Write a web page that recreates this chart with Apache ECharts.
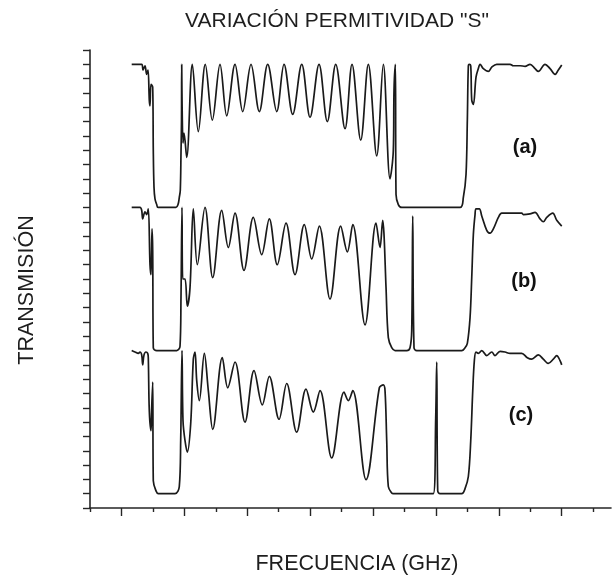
<!DOCTYPE html>
<html>
<head>
<meta charset="utf-8">
<script src="https://cdn.jsdelivr.net/npm/echarts@6/dist/echarts.min.js"></script>
<style>
html, body { margin: 0; padding: 0; background: #fff; }
#main { width: 616px; height: 581px; }
</style>
</head>
<body>
<div id="main"></div>
<script>
// curvas: [frecuencia, transmision normalizada 0..1]
var curvaA = [[1.326,1.0],[1.644,1.0],[1.686,0.96],[1.749,0.99],[1.803,0.93],[1.845,0.96],[1.886,0.75],[1.908,0.71],[1.940,0.86],[1.994,0.84],
    [2.013,0.40],[2.036,0.14],[2.067,0.06],[2.122,0.02],[2.163,0.0],[2.735,0.0],[2.799,0.02],[2.840,0.07],[2.872,0.12],[2.894,0.38],
    [2.910,0.6],[2.917,1.0],[2.936,1.0],[2.958,0.45],[2.990,0.52],[3.076,0.35],[3.254,1.0],[3.445,0.53],[3.667,1.0],[3.890,0.61],
    [4.135,1.0],[4.348,0.64],[4.612,1.0],[4.857,0.67],[5.121,1.0],[5.385,0.67],[5.652,1.0],[5.938,0.67],[6.171,1.0],[6.447,0.65],
    [6.734,1.0],[6.998,0.63],[7.284,1.0],[7.548,0.6],[7.815,1.0],[8.111,0.55],[8.333,1.0],[8.610,0.47],[8.852,1.0],[9.119,0.36],
    [9.329,1.0],[9.542,0.2],[9.647,0.4],[9.669,0.82],[9.711,1.0],[9.733,0.09],[9.806,0.02],[9.914,0.0],[11.769,0.0],[11.874,0.07],
    [11.959,0.23],[12.001,0.61],[12.033,0.99],[12.064,1.0],[12.109,0.99],[12.141,0.75],[12.192,0.72],[12.277,0.91],[12.351,0.97],[12.405,1.0],
    [12.510,0.97],[12.669,0.95],[12.777,0.98],[12.936,1.0],[13.359,1.0],[13.464,0.99],[13.677,0.99],[13.836,0.986],[13.995,1.0],[14.154,0.97],
    [14.259,0.95],[14.472,1.0],[14.631,0.97],[14.790,0.93],[14.895,0.96],[15.003,0.995]];

var curvaB = [[1.326,1.0],[1.590,1.0],[1.644,0.98],[1.676,0.92],[1.749,0.97],[1.803,0.95],[1.854,0.99],[1.908,0.6],[1.940,0.53],[1.972,0.85],
    [1.994,0.7],[2.013,0.02],[2.122,0.0],[2.758,0.0],[2.863,0.03],[2.894,0.37],[2.926,1.0],[2.949,0.5],[3.022,0.5],[3.095,0.31],
    [3.181,0.44],[3.286,0.99],[3.413,0.60],[3.658,1.0],[3.903,0.51],[4.189,0.98],[4.399,0.72],[4.612,0.96],[4.898,0.56],[5.194,0.93],
    [5.461,0.67],[5.703,0.92],[5.957,0.60],[6.234,0.89],[6.520,0.53],[6.816,0.88],[7.052,0.64],[7.293,0.87],[7.634,0.36],[7.974,0.87],
    [8.184,0.69],[8.356,0.88],[8.747,0.18],[9.097,0.89],[9.224,0.72],[9.310,0.91],[9.351,0.81],[9.415,0.44],[9.488,0.09],[9.596,0.02],
    [9.701,0.0],[10.073,0.0],[10.178,0.02],[10.232,0.14],[10.264,0.94],[10.305,0.02],[10.391,0.0],[11.823,0.0],[11.928,0.02],[12.001,0.05],
    [12.087,0.23],[12.141,0.51],[12.192,0.81],[12.246,0.95],[12.277,0.99],[12.382,0.99],[12.459,0.94],[12.618,0.84],[12.723,0.82],[12.828,0.85],
    [12.987,0.93],[13.095,0.96],[13.731,0.96],[13.782,0.95],[13.995,0.955],[14.154,0.965],[14.313,0.92],[14.418,0.90],[14.526,0.93],[14.717,0.96],
    [14.844,0.91],[15.003,0.87]];

var curvaC = [[1.326,1.0],[1.431,0.99],[1.536,0.98],[1.590,0.99],[1.644,0.97],[1.676,0.90],[1.718,0.97],[1.781,0.99],[1.835,0.98],[1.854,0.95],
    [1.886,0.58],[1.940,0.44],[1.962,0.60],[1.994,0.78],[2.013,0.09],[2.099,0.02],[2.172,0.0],[2.704,0.0],[2.840,0.05],[2.885,0.38],
    [2.926,1.0],[2.958,0.51],[3.022,0.37],[3.095,0.29],[3.203,0.49],[3.286,0.94],[3.340,0.99],[3.394,0.79],[3.477,0.65],[3.636,0.98],
    [3.763,0.72],[3.903,0.45],[4.208,0.95],[4.380,0.74],[4.612,0.92],[4.930,0.50],[5.216,0.86],[5.480,0.62],[5.703,0.82],[6.012,0.52],
    [6.256,0.77],[6.574,0.43],[6.870,0.73],[7.102,0.57],[7.316,0.72],[7.688,0.25],[8.079,0.71],[8.216,0.65],[8.356,0.72],[8.779,0.098],
    [9.202,0.74],[9.329,0.76],[9.383,0.72],[9.437,0.37],[9.488,0.05],[9.596,0.005],[9.647,0.0],[10.919,0.0],[10.995,0.53],[11.027,0.92],
    [11.059,0.02],[11.132,0.0],[11.823,0.0],[11.928,0.035],[12.033,0.12],[12.109,0.37],[12.173,0.72],[12.224,0.93],[12.277,0.99],[12.351,0.98],
    [12.459,1.0],[12.618,0.965],[12.777,0.99],[12.882,0.965],[13.041,0.995],[13.200,0.99],[13.359,0.98],[13.731,0.98],[13.909,0.95],[14.049,0.94],
    [14.259,0.97],[14.418,0.94],[14.577,0.91],[14.736,0.94],[14.844,0.965],[14.949,0.93],[15.003,0.90]];

var etiquetas = ['(a)', '(b)', '(c)'];
var ticksMayores = [1, 3, 5, 7, 9, 11, 13, 15];
var ticksMenores = [0, 2, 4, 6, 8, 10, 12, 14, 16];

// cada curva se desplaza hacia arriba y ocupa 10 divisiones
function desplazar(curva, base) {
    var res = [];
    for (var i = 0; i < curva.length; i++) {
        res.push([curva[i][0], base + curva[i][1] * 10]);
    }
    return res;
}

var colorEje = '#262626';
var colorLinea = '#1a1a1a';
var fuente = 'Liberation Sans, Arial, sans-serif';

var chart = echarts.init(document.getElementById('main'));

function serie(datos) {
    return {
        type: 'line',
        data: datos,
        showSymbol: false,
        symbol: 'none',
        smooth: 0.35,
        lineStyle: { color: colorLinea, width: 1.7 },
        z: 3
    };
}

var option = {
    animation: false,
    backgroundColor: '#fff',
    grid: { left: 90, right: 5, top: 50, bottom: 73 },
    xAxis: [{
        type: 'value',
        min: 0,
        max: 16.57,
        position: 'bottom',
        axisLine: { lineStyle: { color: colorEje, width: 1.6 } },
        axisTick: { customValues: ticksMenores, length: 4, lineStyle: { color: colorEje, width: 1.4 } },
        axisLabel: { show: false },
        splitLine: { show: false }
    }, {
        type: 'value',
        min: 0,
        max: 16.57,
        position: 'bottom',
        axisLine: { show: false },
        axisTick: { customValues: ticksMayores, length: 8, lineStyle: { color: colorEje, width: 1.4 } },
        axisLabel: { show: false },
        splitLine: { show: false }
    }],
    yAxis: {
        type: 'value',
        min: 0,
        max: 32,
        interval: 1,
        axisLine: { show: true, lineStyle: { color: colorEje, width: 1.6 } },
        axisTick: { show: true, length: 7, lineStyle: { color: colorEje, width: 1.4 } },
        axisLabel: { show: false },
        splitLine: { show: false }
    },
    series: [
        serie(desplazar(curvaA, 21)),
        serie(desplazar(curvaB, 11)),
        serie(desplazar(curvaC, 1))
    ],
    graphic: [
        { type: 'text', x: 337, y: 21, style: { text: 'VARIACIÓN PERMITIVIDAD "S"', font: '21px ' + fuente, fill: '#1e1e1e', align: 'center', verticalAlign: 'middle' } },
        { type: 'text', x: 27, y: 290, rotation: Math.PI / 2, style: { text: 'TRANSMISIÓN', font: '21.5px ' + fuente, fill: '#1e1e1e', align: 'center', verticalAlign: 'middle' } },
        { type: 'text', x: 357, y: 564, style: { text: 'FRECUENCIA (GHz)', font: '21.5px ' + fuente, fill: '#1e1e1e', align: 'center', verticalAlign: 'middle' } },
        { type: 'text', x: 525, y: 147, style: { text: etiquetas[0], font: 'bold 20px ' + fuente, fill: '#111', align: 'center', verticalAlign: 'middle' } },
        { type: 'text', x: 524, y: 281, style: { text: etiquetas[1], font: 'bold 20px ' + fuente, fill: '#111', align: 'center', verticalAlign: 'middle' } },
        { type: 'text', x: 521, y: 415, style: { text: etiquetas[2], font: 'bold 20px ' + fuente, fill: '#111', align: 'center', verticalAlign: 'middle' } }
    ]
};
chart.setOption(option);
</script>
</body>
</html>
